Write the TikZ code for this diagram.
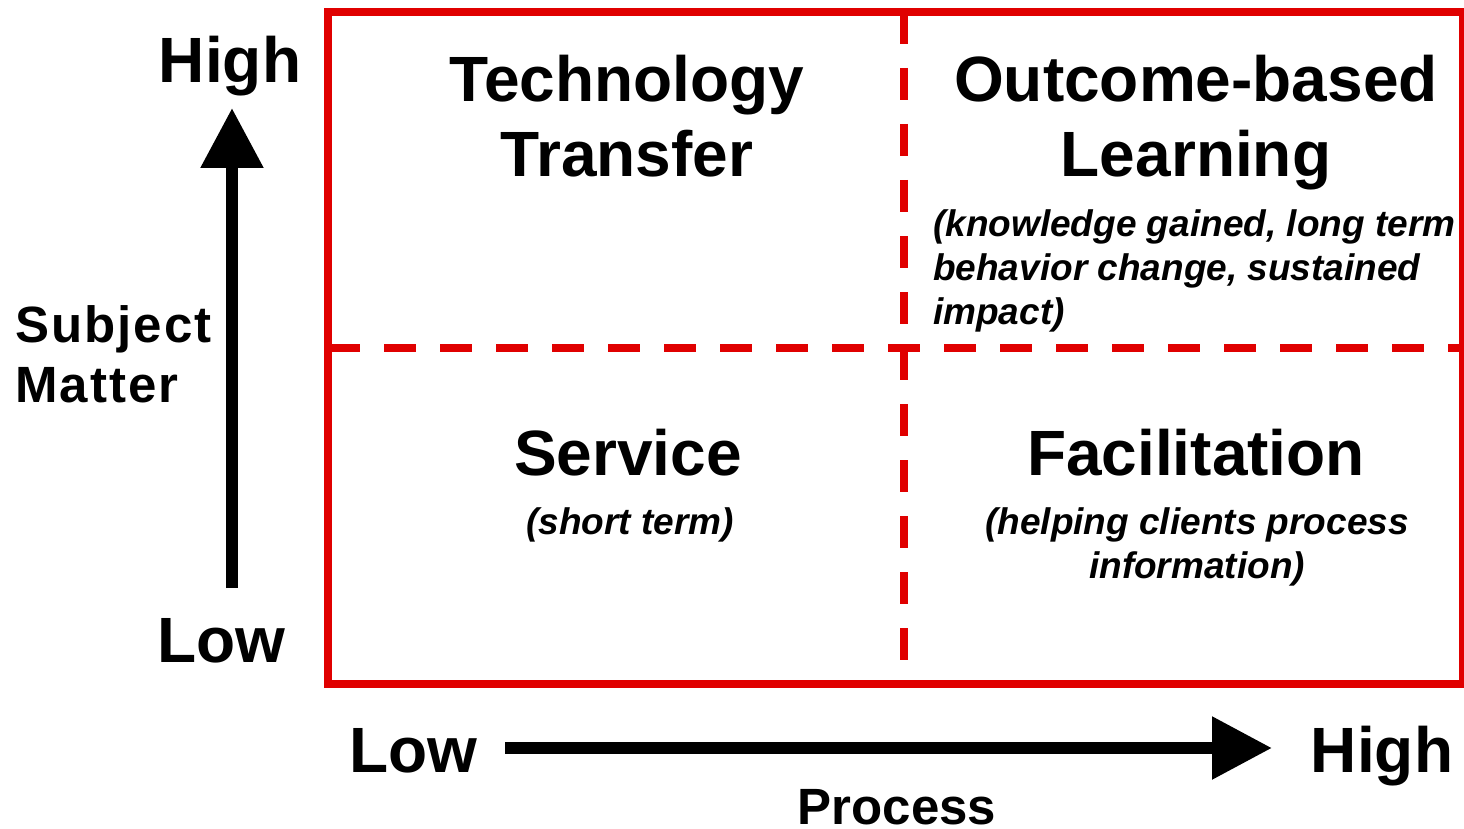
\documentclass[tikz,border=0pt]{standalone}
\usepackage{fontspec}
\setmainfont{Liberation Sans}
\usetikzlibrary{arrows.meta}
\definecolor{boxred}{RGB}{224,0,0}

\begin{document}
\begin{tikzpicture}[x=1pt,y=-1pt,
  big/.style={inner sep=0pt,anchor=base,align=center,font=\fontsize{64}{75}\selectfont\bfseries},
  note/.style={inner sep=0pt,anchor=base,font=\fontsize{37}{44}\selectfont\bfseries\itshape},
  axislabel/.style={inner sep=0pt,anchor=base,font=\fontsize{51}{60}\selectfont\bfseries},
  spaced/.style={axislabel,font=\fontsize{51}{60}\selectfont\bfseries\addfontfeature{LetterSpace=4}},
  quadline/.style={boxred,line width=8pt,dash pattern=on 32pt off 24pt},
  bigarrow/.style={line width=12pt,-{Triangle[length=60pt,width=60pt]}}]

\useasboundingbox (0,0) rectangle (1464,829);

% quadrants
\draw[quadline] (904,12) -- (904,684);
\draw[quadline] (328,348) -- (1463,348);
\draw[boxred,line width=8pt] (328,12) rectangle (1463,684);

\node[big] (tt) at (627,177) {Technology\\Transfer};
\node[big] (obl) at (1196,177) {Outcome-based\\Learning};
\node[note,align=left,anchor=base west] (oblnote) at (933,324) {(knowledge gained, long term\\behavior change, sustained\\impact)};
\node[big] (serv) at (628,475) {Service};
\node[note] (servnote) at (630,534) {(short term)};
\node[big] (fac) at (1196,475) {Facilitation};
\node[note,align=center] (facnote) at (1197,578) {(helping clients process\\information)};

% axes
\node[big] (highY) at (230,83) {High};
\node[big] (lowY) at (221,662) {Low};
\node[spaced,align=left,anchor=base west] (subj) at (15,402) {Subject\\Matter};
\coordinate (ylo) at (232,588);
\coordinate (yhi) at (232,108);
\draw[bigarrow] (ylo) -- (yhi);

\node[big] (lowX) at (413,772) {Low};
\node[big] (highX) at (1382,772) {High};
\node[axislabel] (proc) at (897,824) {Process};
\coordinate (xlo) at (505,748);
\coordinate (xhi) at (1272,748);
\draw[bigarrow] (xlo) -- (xhi);
\end{tikzpicture}
\end{document}
